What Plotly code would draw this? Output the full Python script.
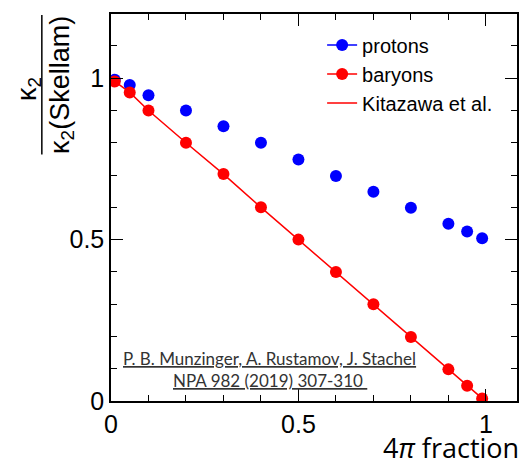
import plotly.graph_objects as go

# 4pi acceptance fraction and normalised second cumulants
fraction = [0.01, 0.05, 0.1, 0.2, 0.3, 0.4, 0.5, 0.6, 0.7, 0.8, 0.9, 0.95, 0.99]
protons = [0.995, 0.979, 0.947, 0.90, 0.851, 0.80, 0.748, 0.697, 0.648, 0.599, 0.549, 0.525, 0.504]
baryons = [0.99, 0.956, 0.90, 0.80, 0.703, 0.60, 0.50, 0.40, 0.30, 0.198, 0.098, 0.047, 0.008]

# Kitazawa et al. expectation
kitazawa_x = [0.0, 0.01, 0.05, 0.1, 0.2, 0.3, 0.4, 0.5, 0.6, 0.7, 0.8, 0.9, 0.95, 0.99]
kitazawa_y = [1.0, 0.99, 0.956, 0.90, 0.80, 0.703, 0.60, 0.50, 0.40, 0.30, 0.198, 0.098, 0.047, 0.008]

X_RANGE = [0, 1.083]
Y_RANGE = [0, 1.199]

BLUE = "#0000ff"
RED = "#ff0000"
SANS = "Liberation Sans, Arial, sans-serif"

fig = go.Figure()

fig.add_trace(go.Scatter(
    x=kitazawa_x, y=kitazawa_y, mode="lines",
    line=dict(color=RED, width=1.5), showlegend=False,
))
fig.add_trace(go.Scatter(
    x=fraction, y=protons, mode="markers",
    marker=dict(color=BLUE, size=12), showlegend=False,
))
fig.add_trace(go.Scatter(
    x=fraction, y=baryons, mode="markers",
    marker=dict(color=RED, size=12), showlegend=False,
))

# legend entries (placed on the overlay axes that carry the tick marks)
fig.add_trace(go.Scatter(
    x=[None], y=[None], mode="lines+markers", name="protons",
    line=dict(color=BLUE, width=1.5), marker=dict(color=BLUE, size=12),
    xaxis="x2", yaxis="y2",
))
fig.add_trace(go.Scatter(
    x=[None], y=[None], mode="lines+markers", name="baryons",
    line=dict(color=RED, width=1.5), marker=dict(color=RED, size=12),
    xaxis="x2", yaxis="y2",
))
fig.add_trace(go.Scatter(
    x=[None], y=[None], mode="lines", name="Kitazawa et al.",
    line=dict(color=RED, width=1.5),
    xaxis="x2", yaxis="y2",
))

# main axes: frame and tick labels
label_axis = dict(
    showline=True, linecolor="black", linewidth=1.5, mirror=True,
    ticks="", tickmode="linear", tick0=0, dtick=0.5,
    showgrid=False, zeroline=False,
    tickfont=dict(family=SANS, size=25, color="black"),
)
# overlay axes: inward major and minor tick marks on all four sides
tick_axis = dict(
    showline=True, linecolor="black", linewidth=1.5, mirror="allticks",
    ticks="inside", ticklen=12, tickwidth=1.3, tickcolor="black",
    tickmode="linear", tick0=0, dtick=0.5,
    showgrid=False, zeroline=False, showticklabels=False,
    minor=dict(ticks="inside", ticklen=6, tickwidth=1.3, tickcolor="black", dtick=0.1),
)

bar_x = (41.5 - 111) / 408
annotations = [
    dict(text="4<i>π</i> fraction", xref="paper", yref="paper", x=1.0, y=(401 - 448) / 389,
         xanchor="right", yanchor="middle", xshift=4, showarrow=False,
         font=dict(family="Open Sans, sans-serif", size=27, color="black")),
    dict(text="κ<sub>2</sub>", xref="paper", yref="paper", x=(28 - 111) / 408, y=(401 - 87) / 389,
         xanchor="center", yanchor="middle", textangle=-90, showarrow=False,
         font=dict(family=SANS, size=27, color="black")),
    dict(text="κ<sub>2</sub>(Skellam)", xref="paper", yref="paper", x=(61 - 111) / 408,
         y=(401 - 83) / 389,
         xanchor="center", yanchor="middle", textangle=-90, showarrow=False,
         font=dict(family=SANS, size=27, color="black")),
    # fraction bar of the y-axis title
    dict(text="", xref="paper", yref="paper", x=bar_x, y=(401 - 13) / 389,
         showarrow=True, arrowhead=0, arrowwidth=1.5, arrowcolor="black",
         ax=0, ay=141, standoff=0, startstandoff=0),
    dict(text="<u>P. B. Munzinger, A. Rustamov, J. Stachel</u>", xref="paper", yref="paper",
         x=(270.5 - 111) / 408, y=(401 - 358) / 389, xanchor="center", yanchor="middle",
         showarrow=False, font=dict(family="Lato, sans-serif", size=17, color="#333333")),
    dict(text="<u>NPA 982 (2019) 307-310 </u>", xref="paper", yref="paper",
         x=(270.5 - 111) / 408, y=(401 - 380) / 389, xanchor="center", yanchor="middle",
         showarrow=False, font=dict(family="Lato, sans-serif", size=17, color="#333333")),
]

fig.update_layout(
    width=531, height=460,
    margin=dict(l=111, r=12, t=12, b=59),
    paper_bgcolor="white", plot_bgcolor="white",
    xaxis=dict(range=X_RANGE, **label_axis),
    yaxis=dict(range=Y_RANGE, **label_axis),
    xaxis2=dict(range=X_RANGE, overlaying="x", anchor="y2", side="bottom", **tick_axis),
    yaxis2=dict(range=Y_RANGE, overlaying="y", anchor="x2", side="left", **tick_axis),
    annotations=annotations,
    legend=dict(x=0.52, y=0.97, xanchor="left", yanchor="top",
                bgcolor="rgba(0,0,0,0)", borderwidth=0,
                font=dict(family=SANS, size=20, color="black")),
)

fig.write_html("out.html")
